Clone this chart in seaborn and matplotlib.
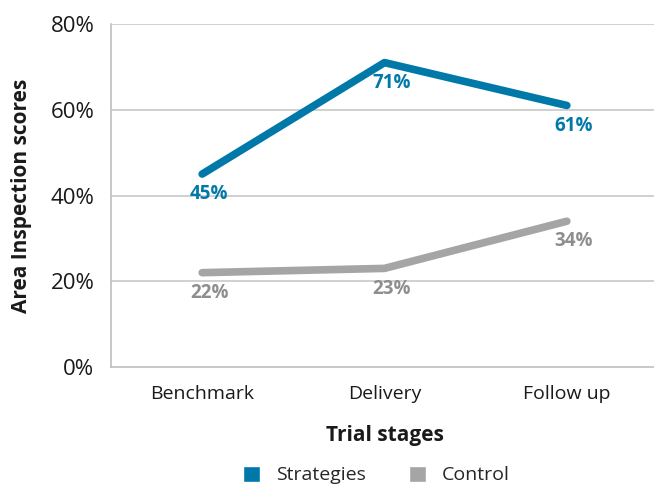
import matplotlib
matplotlib.use("Agg")
import matplotlib.pyplot as plt
from matplotlib.patches import Patch
from matplotlib.ticker import PercentFormatter
import pandas as pd
import seaborn as sns

stages = ["Benchmark", "Delivery", "Follow up"]
strategies = [45, 71, 61]
control = [22, 23, 34]
series_names = ["Strategies", "Control"]
y_ticks = [0, 20, 40, 60, 80]

blue = "#0079A8"
gray = "#A5A5A5"
gray_text = "#8E8E8E"

df = pd.DataFrame({
    "stage": stages * 2,
    "score": strategies + control,
    "series": [series_names[0]] * 3 + [series_names[1]] * 3,
})

sns.set_theme(style="white")
plt.rcParams["font.family"] = ["Open Sans", "DejaVu Sans"]

fig = plt.figure(figsize=(6.54, 4.87), dpi=100)
W, H = 654, 487
ax = fig.add_axes([111 / W, 1 - 367 / H, 547 / W, 343 / H])

# horizontal gridlines behind the lines
for t in y_ticks[1:]:
    ax.axhline(t, color="#C8C8C8", linewidth=1.2, zorder=0.5)

sns.lineplot(data=df, x="stage", y="score", hue="series",
             palette={"Strategies": blue, "Control": gray},
             linewidth=5.5, solid_capstyle="round", legend=False, ax=ax)

# data labels below each point
for vals, col in [(strategies, blue), (control, gray_text)]:
    for i, v in enumerate(vals):
        ax.annotate(f"{v}%", (i, v), xytext=(5, -14.5), textcoords="offset points",
                    ha="center", va="center", fontsize=13.5, fontweight="bold", color=col)

ax.set_xlim(-0.5, 2.5)
ax.set_ylim(0, 80)
ax.set_yticks(y_ticks)
ax.yaxis.set_major_formatter(PercentFormatter(decimals=0))

for side in ["top", "right"]:
    ax.spines[side].set_visible(False)
for side in ["left", "bottom"]:
    ax.spines[side].set_color("#BFBFBF")
    ax.spines[side].set_linewidth(1.2)

ax.set_xticks([0.5, 1.5], minor=True)
ax.tick_params(axis="x", which="minor", direction="in", length=9, width=1.2, color="#BFBFBF")
ax.tick_params(axis="x", which="major", length=0, pad=13, labelsize=14, labelcolor="#1A1A1A")
ax.tick_params(axis="y", length=0, pad=12, labelsize=16, labelcolor="#1A1A1A")

ax.set_xlabel("Trial stages", fontsize=15, fontweight="bold", labelpad=16, color="#1A1A1A")
ax.set_ylabel("Area Inspection scores", fontsize=15, fontweight="bold", labelpad=13, color="#1A1A1A")

handles = [Patch(facecolor=blue, label=series_names[0]),
           Patch(facecolor=gray, label=series_names[1])]
ax.legend(handles=handles, loc="center", bbox_to_anchor=(0.485, -0.315), ncol=2,
          frameon=False, fontsize=14, handlelength=0.9, handleheight=0.9,
          handletextpad=0.8, columnspacing=2.2)

fig.savefig("out.png", dpi=100)
